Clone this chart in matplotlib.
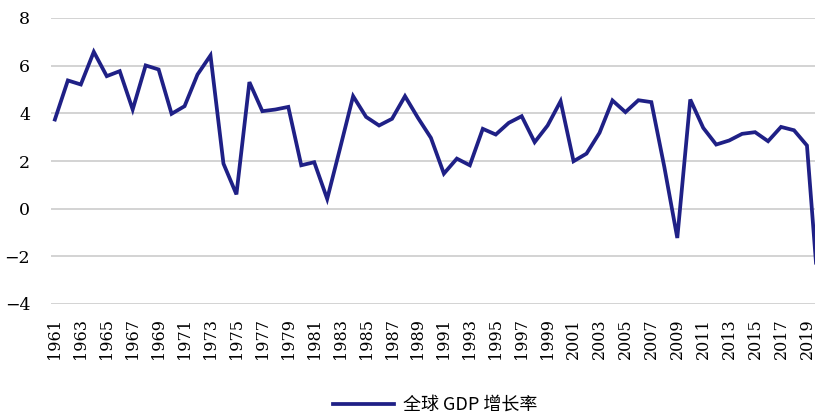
import matplotlib
matplotlib.use("Agg")
import matplotlib.pyplot as plt

# 全球 GDP 增长率 (%)
years = list(range(1961, 2021))
growth = [3.74, 5.38, 5.21, 6.58, 5.56, 5.77, 4.16, 6.01, 5.84, 3.98,
          4.30, 5.63, 6.43, 1.89, 0.60, 5.31, 4.09, 4.16, 4.27, 1.82,
          1.95, 0.41, 2.55, 4.72, 3.85, 3.49, 3.77, 4.72, 3.81, 2.97,
          1.47, 2.10, 1.82, 3.35, 3.11, 3.60, 3.88, 2.79, 3.49, 4.51,
          1.99, 2.31, 3.18, 4.54, 4.05, 4.55, 4.47, 1.75, -1.23, 4.58,
          3.39, 2.69, 2.86, 3.14, 3.21, 2.83, 3.43, 3.29, 2.65, -4.4]
yticks = [-4, -2, 0, 2, 4, 6, 8]
xticks = years[::2]
series_name = "全球 GDP 增长率"

W, H = 815, 416
fig = plt.figure(figsize=(W / 100, H / 100), dpi=100)
ax = fig.add_axes([51 / W, 1 - 304 / H, 1 - 51 / W, (304 - 18) / H])

ax.plot(years, growth, color="#1f2086", lw=2.7, label=series_name,
        solid_joinstyle="miter", zorder=3)

ax.set_xlim(1960.7, 2019.62)
ax.set_ylim(-4, 8)
ax.set_yticks(yticks)
ax.set_yticklabels(["\u2212" + str(-v) if v < 0 else str(v) for v in yticks],
                   fontfamily="DejaVu Serif", fontsize=12.5)
ax.set_xticks(xticks)
ax.set_xticklabels([str(y) for y in xticks], rotation=90,
                   fontfamily="DejaVu Serif", fontsize=11.5)
ax.tick_params(axis="y", length=0, pad=15)
ax.tick_params(axis="x", length=0, pad=10)
ax.grid(axis="y", color="#d0d0d0", lw=1.3)
ax.set_axisbelow(True)
for s in ax.spines.values():
    s.set_visible(False)

fig.legend(loc="center", bbox_to_anchor=(435 / W, 1 - 405 / H), frameon=False,
           prop={"family": ["Noto Sans CJK SC", "DejaVu Sans"], "size": 13},
           handlelength=3.4, handletextpad=0.5)

fig.savefig("out.png", dpi=100)
